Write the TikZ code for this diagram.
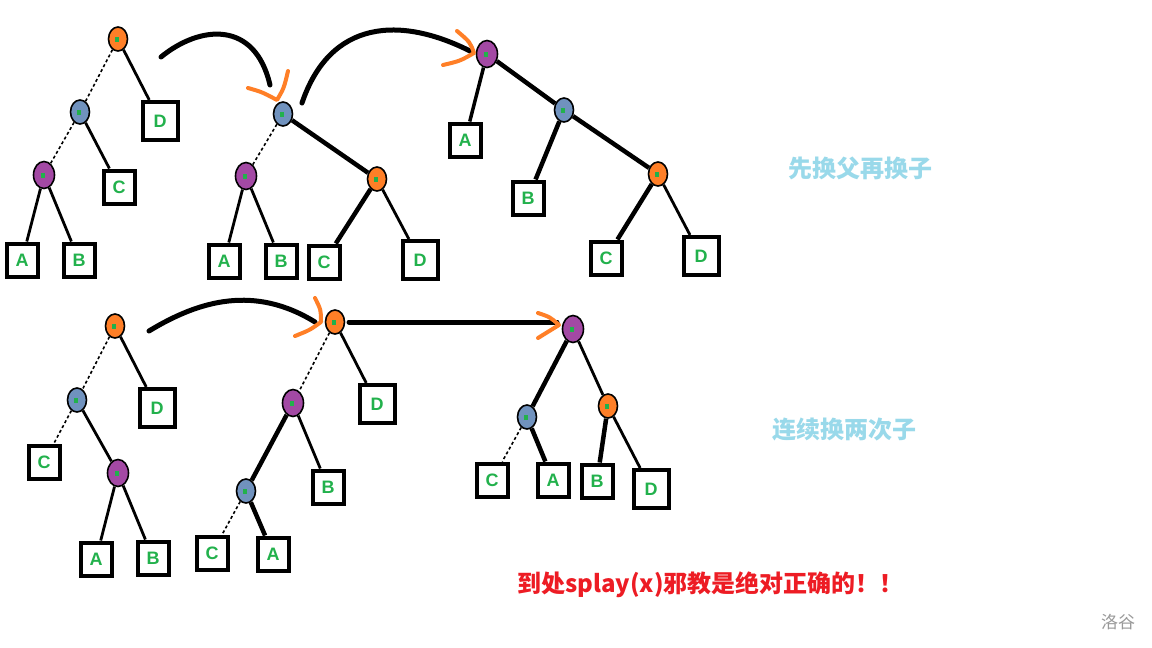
\documentclass[tikz,border=0pt]{standalone}
\usepackage{fontspec}
\setmainfont{Liberation Sans}
\newfontfamily\cjk{Noto Sans CJK SC}
\usetikzlibrary{shapes.geometric}
\definecolor{orgc}{HTML}{FF7F27}
\definecolor{purc}{HTML}{A349A4}
\definecolor{bluc}{HTML}{7092BE}
\definecolor{lgreen}{HTML}{22B14C}
\definecolor{ltblue}{HTML}{99D9EA}
\definecolor{redc}{HTML}{ED1C24}
\definecolor{grayc}{HTML}{999999}
\tikzset{
  nd/.style={ellipse, draw=black, line width=1.6pt, inner sep=0pt,
    minimum width=19pt, minimum height=24pt,
    path picture={\fill[lgreen] ([xshift=-3pt,yshift=-3pt]path picture bounding box.center) rectangle ++(3.5pt,5pt);}},
  org/.style={nd, fill=orgc},
  blu/.style={nd, fill=bluc},
  pur/.style={nd, fill=purc, minimum width=21pt, minimum height=27pt},
  leaf/.style={draw=black, line width=4pt, inner sep=0pt, minimum width=31pt, minimum height=33pt,
    text=lgreen, font=\bfseries\fontsize{18}{18}\selectfont},
  leafD/.style={leaf, minimum width=35pt, minimum height=38pt},
  thn/.style={line width=1.6pt, dash pattern=on 3pt off 2.5pt},
  med/.style={line width=2.8pt},
  thk/.style={line width=4.5pt},
  curv/.style={line width=5pt, line cap=round},
  tipv/.style={draw=orgc, line width=4pt, line cap=round, line join=round},
}
\begin{document}
\begin{tikzpicture}[x=1pt, y=-1pt]
\useasboundingbox (0,0) rectangle (1152,648);
\fill[white] (0,0) rectangle (1152,648);

% ---- Tree 1 ----
\node[org] (r1o) at (118,39) {};
\node[blu] (r1b) at (80,112) {};
\node[leafD] (r1D) at (160,121) {D};
\node[pur] (r1p) at (44,175) {};
\node[leaf] (r1C) at (119,187) {C};
\node[leaf] (r1A) at (22,260) {A};
\node[leaf] (r1B) at (79,260) {B};
\draw[thn] (r1o) -- (r1b);
\draw[med] (r1o) -- (r1D);
\draw[thn] (r1b) -- (r1p);
\draw[med] (r1b) -- (r1C);
\draw[med] (r1p) -- (r1A);
\draw[med] (r1p) -- (r1B);

% ---- Tree 2 ----
\node[blu] (r2b) at (283,114) {};
\node[pur] (r2p) at (246,176) {};
\node[org] (r2o) at (377,179) {};
\node[leaf] (r2A) at (224,261) {A};
\node[leaf] (r2B) at (281,261) {B};
\node[leaf] (r2C) at (324,262) {C};
\node[leafD] (r2D) at (420,260) {D};
\draw[thn] (r2b) -- (r2p);
\draw[thk] (r2b) -- (r2o);
\draw[med] (r2p) -- (r2A);
\draw[med] (r2p) -- (r2B);
\draw[thk] (r2o) -- (r2C);
\draw[med] (r2o) -- (r2D);

% ---- Tree 3 ----
\node[pur] (r3p) at (487,54) {};
\node[leaf] (r3A) at (465,140) {A};
\node[blu] (r3b) at (564,110) {};
\node[leaf] (r3B) at (528,198) {B};
\node[org] (r3o) at (658,174) {};
\node[leaf] (r3C) at (606,258) {C};
\node[leafD] (r3D) at (701,256) {D};
\draw[line width=3.5pt] (r3p) -- (r3A);
\draw[thk] (r3p) -- (r3b);
\draw[thk] (r3b) -- (r3B);
\draw[thk] (r3b) -- (r3o);
\draw[thk] (r3o) -- (r3C);
\draw[med] (r3o) -- (r3D);

% ---- Tree 4 ----
\node[org] (r4o) at (115,326) {};
\node[blu] (r4b) at (77,400) {};
\node[leafD] (r4D) at (157,408) {D};
\node[leaf] (r4C) at (44,462) {C};
\node[pur] (r4p) at (118,473) {};
\node[leaf] (r4A) at (96,559) {A};
\node[leaf] (r4B) at (153,558) {B};
\draw[thn] (r4o) -- (r4b);
\draw[med] (r4o) -- (r4D);
\draw[thn] (r4b) -- (r4C);
\draw[med] (r4b) -- (r4p);
\draw[med] (r4p) -- (r4A);
\draw[med] (r4p) -- (r4B);

% ---- Tree 5 ----
\node[org] (r5o) at (335,322) {};
\node[pur] (r5p) at (293,403) {};
\node[leafD] (r5D) at (377,404) {D};
\node[blu] (r5b) at (246,491) {};
\node[leaf] (r5B) at (328,487) {B};
\node[leaf] (r5C) at (212,553) {C};
\node[leaf] (r5A) at (273,554) {A};
\draw[thn] (r5o) -- (r5p);
\draw[med] (r5o) -- (r5D);
\draw[thk] (r5p) -- (r5b);
\draw[med] (r5p) -- (r5B);
\draw[thn] (r5b) -- (r5C);
\draw[thk] (r5b) -- (r5A);

% ---- Tree 6 ----
\node[pur] (r6p) at (573,329) {};
\node[blu] (r6b) at (527,417) {};
\node[org] (r6o) at (608,406) {};
\node[leaf] (r6C) at (492,480) {C};
\node[leaf] (r6A) at (553,480) {A};
\node[leaf] (r6B) at (597,481) {B};
\node[leafD] (r6D) at (651,489) {D};
\draw[thk] (r6p) -- (r6b);
\draw[med] (r6p) -- (r6o);
\draw[thn] (r6b) -- (r6C);
\draw[thk] (r6b) -- (r6A);
\draw[thk] (r6o) -- (r6B);
\draw[med] (r6o) -- (r6D);

% ---- transition arrows ----
\coordinate (c1s) at (161,57);  \coordinate (c1e) at (270,85);
\coordinate (c2s) at (302,103); \coordinate (c2e) at (472,52);
\coordinate (c3s) at (149,331); \coordinate (c3e) at (315,322);
\coordinate (c4s) at (349,322); \coordinate (c4e) at (557,322);
\draw[curv] (c1s) .. controls (200,25) and (255,20) .. (c1e);
\draw[curv] (c2s) .. controls (330,20) and (400,15) .. (c2e);
\draw[curv] (c3s) .. controls (200,300) and (255,285) .. (c3e);
\draw[curv] (c4s) -- (c4e);
\draw[tipv] (248,88) .. controls (262,92) .. (277,100) .. controls (284,88) .. (288,71);
\draw[tipv] (457,31) .. controls (470,42) .. (474,53) .. controls (460,61) .. (443,65);
\draw[tipv] (315,298) .. controls (321,310) .. (321,322) .. controls (310,330) .. (295,336);
\draw[tipv] (538,313) .. controls (550,317) .. (559,325) .. controls (549,331) .. (538,338);

% ---- texts ----
\node[text=ltblue, font=\cjk\bfseries\fontsize{24}{24}\selectfont, inner sep=0pt] (t1) at (860,168) {先换父再换子};
\node[text=ltblue, font=\cjk\bfseries\fontsize{24}{24}\selectfont, inner sep=0pt] (t2) at (844,430) {连续换两次子};
\node[text=redc, font=\cjk\bfseries\fontsize{24}{24}\selectfont, inner sep=0pt, anchor=west] (t3) at (517,585) {到处splay(x)邪教是绝对正确的！！};
\node[text=grayc, font=\cjk\fontsize{17}{17}\selectfont, inner sep=0pt] (t4) at (1118,622) {洛谷};
\end{tikzpicture}
\end{document}
